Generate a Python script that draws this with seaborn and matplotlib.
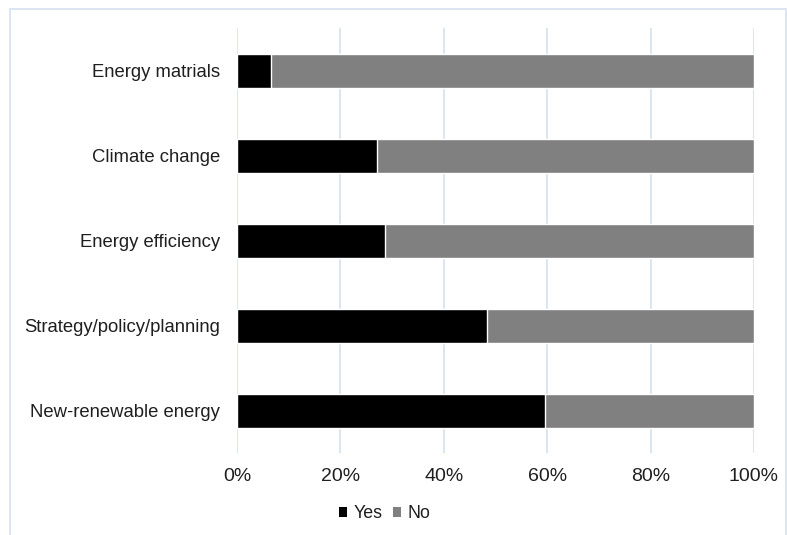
import matplotlib
matplotlib.use('Agg')
import matplotlib.pyplot as plt
import seaborn as sns
import pandas as pd
from matplotlib.patches import Rectangle, Patch
from matplotlib.ticker import PercentFormatter

# datos (porcentaje de respuestas)
temas = ['Energy matrials', 'Climate change', 'Energy efficiency',
         'Strategy/policy/planning', 'New-renewable energy']
si = [6.6, 27.0, 28.6, 48.4, 59.6]
no = [93.4, 73.0, 71.4, 51.6, 40.4]

NEGRO = '#000000'; GRIS = '#808080'; REJILLA = '#D5E1F1'; TEXTO = '#1F1F1F'

sns.set_theme(style='white')
plt.rcParams['font.family'] = ['Liberation Sans', 'DejaVu Sans']

df = pd.DataFrame({'tema': temas, 'Yes': si, 'No': no})
df['total'] = df['Yes'] + df['No']

fig = plt.figure(figsize=(7.87, 5.35), dpi=100)
ax = fig.add_axes([237/787, 1 - 453/535, (754 - 237)/787, (453 - 28)/535])

sns.barplot(data=df, x='total', y='tema', color=GRIS, width=0.4,
            saturation=1, ax=ax, zorder=2)
sns.barplot(data=df, x='Yes', y='tema', color=NEGRO, width=0.4,
            saturation=1, ax=ax, zorder=3)

ax.set_xlim(0, 100)
ax.xaxis.set_major_formatter(PercentFormatter(decimals=0))
ax.set_xticks([0, 20, 40, 60, 80, 100])
ax.grid(axis='x', color=REJILLA, linewidth=1.2, zorder=0)
ax.set_axisbelow(True)
for sp in ax.spines.values():
    sp.set_visible(False)
ax.set_xlabel(''); ax.set_ylabel('')
ax.tick_params(axis='y', length=0, pad=12, labelsize=13.3, labelcolor=TEXTO)
ax.tick_params(axis='x', length=0, pad=11, labelsize=14, labelcolor=TEXTO)

# leyenda con cuadritos
handles = [Patch(facecolor=NEGRO, edgecolor='none', label='Yes'),
           Patch(facecolor=GRIS, edgecolor='none', label='No')]
fig.legend(handles=handles, loc='center',
           bbox_to_anchor=(384.5/787, 1 - 514/535), ncol=2, frameon=False,
           fontsize=12.8, handlelength=0.45, handleheight=0.45,
           handletextpad=0.35, columnspacing=0.6, labelcolor=TEXTO)

# marco exterior azul claro
fig.patches.append(Rectangle((10/787, -0.05), (786 - 10)/787, 1.05 - 9/535,
                             transform=fig.transFigure, fill=False,
                             edgecolor=REJILLA, linewidth=1.2))

fig.savefig('out.png', dpi=100, facecolor='white')
